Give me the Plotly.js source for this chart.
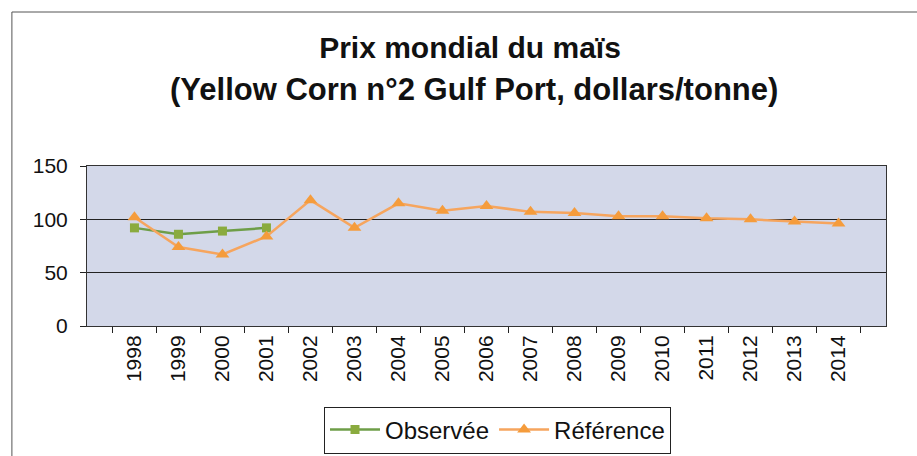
<!DOCTYPE html>
<html>
<head>
<meta charset="utf-8">
<script src="https://cdn.plot.ly/plotly-3.0.1.min.js"></script>
<style>html,body{margin:0;padding:0;background:#fff;}#chart{width:917px;height:456px;}</style>
</head>
<body>
<div id="chart"></div>
<script>
const years = ['1998','1999','2000','2001','2002','2003','2004','2005','2006','2007','2008','2009','2010','2011','2012','2013','2014'];
const observee = [92, 86, 89, 92, null, null, null, null, null, null, null, null, null, null, null, null, null];
const reference = [102, 74, 67, 84, 118, 92, 115, 108, 112.5, 107, 106, 103, 103, 101, 100, 98, 96];
const yTicks = [0, 50, 100, 150];
const titleLine1 = 'Prix mondial du maïs';
const titleLine2 = '(Yellow Corn n°2 Gulf Port, dollars/tonne)';

const font = "Liberation Sans, Arial, sans-serif";
const traces = [
  {
    x: years, y: observee, name: 'Observée', type: 'scatter', mode: 'lines+markers',
    line: {color: '#6e9e48', width: 2.5}, marker: {symbol: 'square', size: 9, color: '#8aab3e'},
    connectgaps: false
  },
  {
    x: years, y: reference, name: 'Référence', type: 'scatter', mode: 'lines+markers',
    line: {color: '#f6a55e', width: 2.5}, marker: {symbol: 'triangle-up', size: 12, color: '#f59c3c'}
  }
];
const layout = {
  width: 917, height: 456,
  margin: {l: 87, r: 31, t: 166, b: 130},
  paper_bgcolor: '#ffffff', plot_bgcolor: '#d3d8e9',
  font: {family: font, color: '#111', size: 21},
  title: {
    text: '<b>' + titleLine1 + '</b>',
    font: {family: font, size: 30, color: '#111'},
    x: (470 - 87) / 799, xanchor: 'center', xref: 'paper', y: 1 - 47 / 456, yanchor: 'middle'
  },
  annotations: [
    {text: '<b>' + titleLine2 + '</b>', xref: 'paper', yref: 'paper', x: (474 - 87) / 799, y: (326 - 90) / 160,
     xanchor: 'center', yanchor: 'middle', showarrow: false, font: {family: font, size: 31, color: '#111'}}
  ],
  xaxis: {
    type: 'category', tickangle: -90, tickson: 'boundaries', ticks: 'outside', ticklen: 6,
    tickcolor: '#222', showline: true, linecolor: '#333', linewidth: 1, mirror: true,
    showgrid: false, tickfont: {size: 21, family: font}, automargin: false
  },
  yaxis: {
    range: [0, 150], tickvals: yTicks, ticks: 'outside', ticklen: 6, tickcolor: '#222',
    showline: true, linecolor: '#333', linewidth: 1, mirror: true, ticklabelstandoff: 8,
    showgrid: true, gridcolor: '#222', gridwidth: 1, zeroline: false,
    tickfont: {size: 21, family: font}, automargin: false
  },
  showlegend: true,
  legend: {
    orientation: 'h', xref: 'paper', x: (497.5 - 87) / 799, xanchor: 'center',
    yref: 'container', y: 1 - 430 / 456, yanchor: 'middle',
    itemwidth: 50,
    bordercolor: '#222', borderwidth: 1, font: {size: 24, family: font}
  },
  shapes: [
    {type: 'rect', xref: 'paper', yref: 'paper', x0: -0.094, x1: 1.1, y0: -1.2, y1: 1.9625,
     line: {color: '#555', width: 1}}
  ]
};
Plotly.newPlot('chart', traces, layout, {displayModeBar: false});
</script>
</body>
</html>
